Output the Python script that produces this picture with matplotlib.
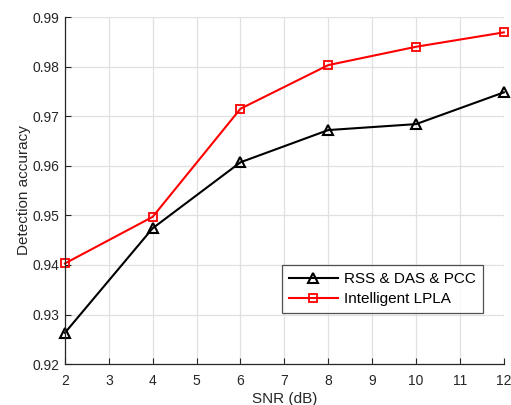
import matplotlib
matplotlib.use("Agg")
import matplotlib.pyplot as plt

snr = [2, 4, 6, 8, 10, 12]
acc_rss = [0.9263, 0.9474, 0.9607, 0.9672, 0.9684, 0.9748]
acc_lpla = [0.9403, 0.9497, 0.9715, 0.9803, 0.9840, 0.9869]
labels = ["RSS & DAS & PCC", "Intelligent LPLA"]

plt.rcParams['font.family'] = ['Liberation Sans', 'DejaVu Sans']

fig = plt.figure(figsize=(5.11, 4.05), dpi=100)
ax = fig.add_axes([0.127, 0.101, 0.859, 0.857])

ax.plot(snr, acc_rss, color='black', lw=1.5, marker='^', ms=7,
        mfc='none', mec='black', mew=1.5, label=labels[0], clip_on=False)
ax.plot(snr, acc_lpla, color='red', lw=1.5, marker='s', ms=5.5,
        mfc='none', mec='red', mew=1.3, label=labels[1], clip_on=False)

ax.set_xlim(2, 12)
ax.set_ylim(0.92, 0.99)
ax.set_xticks(range(2, 13))
ax.set_yticks([0.92, 0.93, 0.94, 0.95, 0.96, 0.97, 0.98, 0.99])
ax.set_yticklabels(['0.92', '0.93', '0.94', '0.95', '0.96', '0.97', '0.98', '0.99'])

ax.grid(True, color='#e0e0e0', lw=0.9)
ax.set_axisbelow(True)
for s in ['top', 'right']:
    ax.spines[s].set_visible(False)
for s in ['left', 'bottom']:
    ax.spines[s].set_color('#262626')
    ax.spines[s].set_linewidth(0.9)
ax.tick_params(direction='in', length=4, colors='#262626', labelsize=10, width=0.8)
ax.tick_params(axis='x', pad=7)
ax.tick_params(axis='y', pad=4)

ax.set_xlabel('SNR (dB)', fontsize=11, color='#262626', labelpad=3)
ax.set_ylabel('Detection accuracy', fontsize=11, color='#262626', labelpad=1)

leg = ax.legend(loc='lower right', bbox_to_anchor=(0.952, 0.147), fontsize=11,
                frameon=True, fancybox=False, edgecolor='#262626',
                borderaxespad=0, handlelength=3.2, borderpad=0.45,
                labelspacing=0.4, handletextpad=0.4)
leg.get_frame().set_linewidth(0.9)

fig.savefig('out.png', dpi=100)
